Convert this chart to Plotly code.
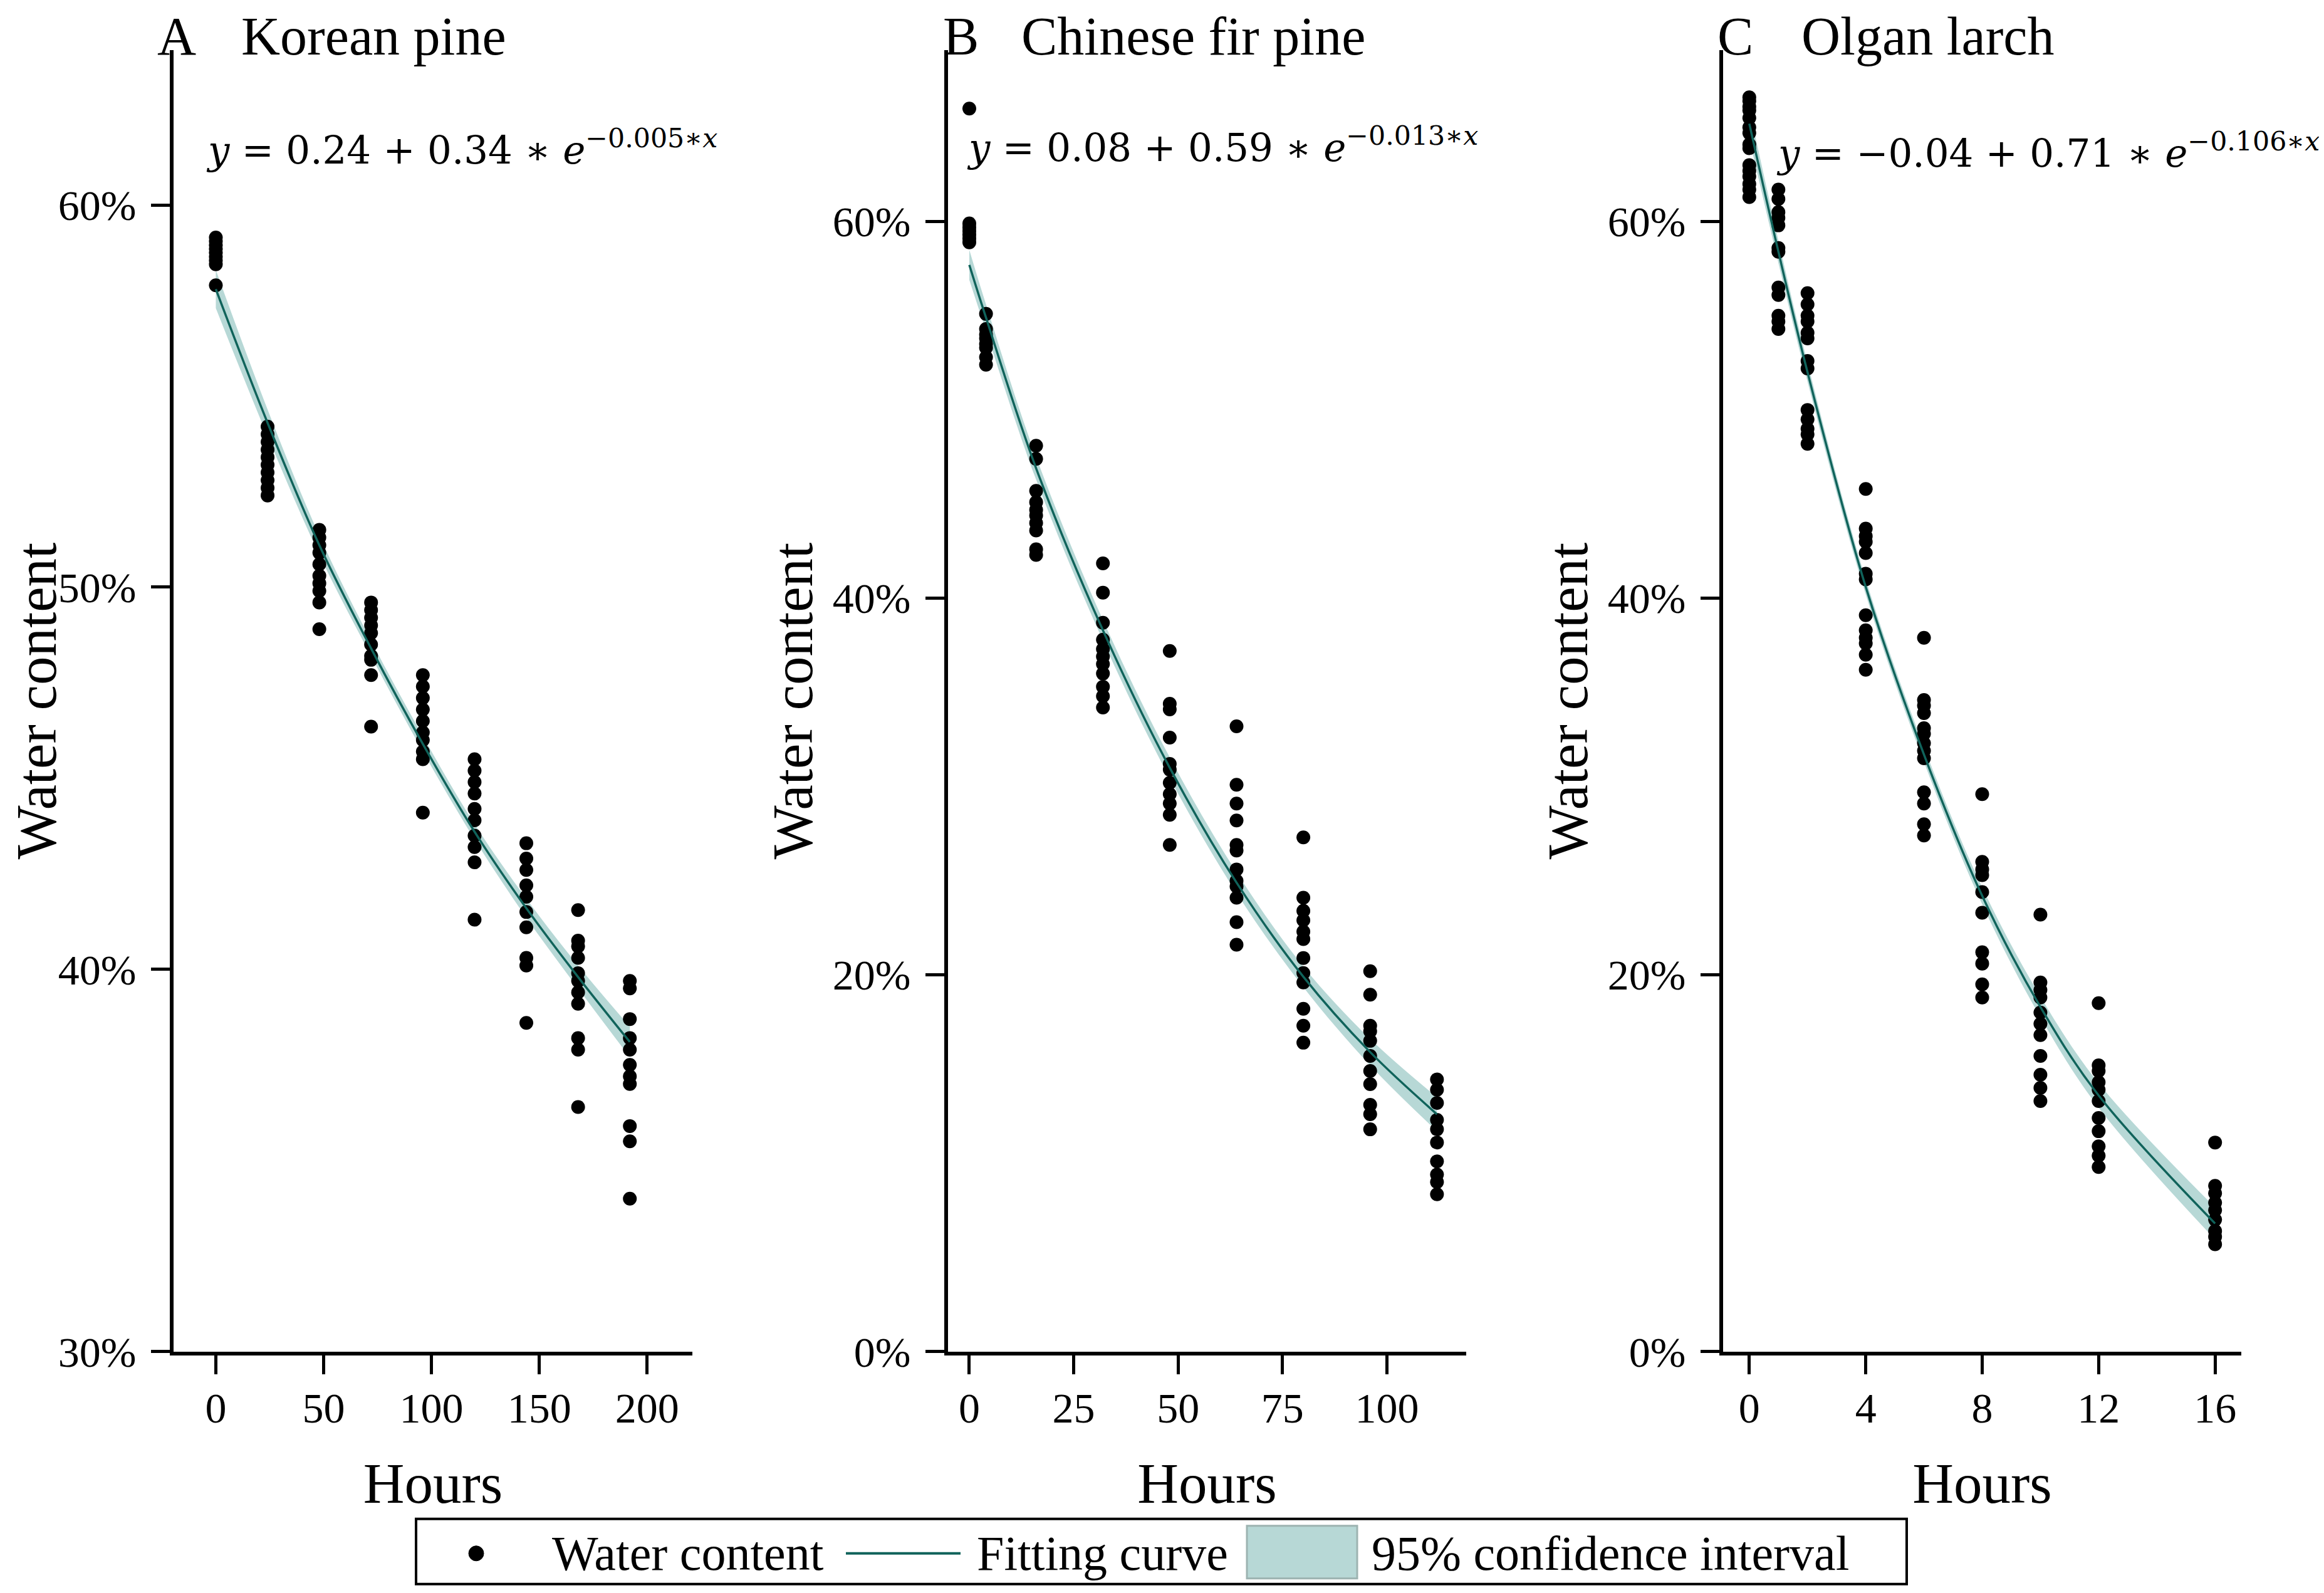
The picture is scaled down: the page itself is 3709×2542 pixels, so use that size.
import plotly.graph_objects as go

# ---- data (water content in %) ----
hours_a = [0, 24, 48, 72, 96, 120, 144, 168, 192]
water_a = [
    [59.15, 59.05, 58.95, 58.85, 58.75, 58.65, 58.55, 58.45, 57.9],
    [54.2, 54.0, 53.8, 53.6, 53.4, 53.2, 53.0, 52.8, 52.6, 52.4],
    [51.5, 51.3, 51.1, 50.9, 50.6, 50.3, 50.1, 49.9, 49.6, 48.9],
    [49.6, 49.4, 49.2, 49.0, 48.8, 48.5, 48.2, 48.1, 47.7, 46.35],
    [47.7, 47.4, 47.1, 46.8, 46.5, 46.2, 46.0, 45.7, 45.5, 44.1],
    [45.5, 45.2, 44.9, 44.6, 44.2, 43.9, 43.5, 43.2, 42.8, 41.3],
    [43.3, 42.9, 42.6, 42.2, 41.9, 41.5, 41.1, 40.3, 40.1, 38.6],
    [41.55, 40.75, 40.6, 40.3, 39.9, 39.7, 39.4, 39.1, 38.2, 37.9, 36.4],
    [39.7, 39.5, 38.7, 38.2, 37.9, 37.5, 37.2, 37.0, 35.9, 35.5, 34.0],
]
fit_a = [57.8, 54.3, 51.1, 48.4, 45.9, 43.6, 41.6, 39.8, 38.1]
lo_a = [57.3, 53.95, 50.85, 48.2, 45.7, 43.4, 41.35, 39.5, 37.7]
hi_a = [58.3, 54.65, 51.35, 48.6, 46.1, 43.8, 41.85, 40.1, 38.5]

hours_b = [0, 4, 16, 32, 48, 64, 80, 96, 112]
water_b = [
    [66.0, 59.9, 59.7, 59.5, 59.3, 59.1, 58.9],
    [55.1, 54.3, 54.0, 53.8, 53.5, 53.3, 52.8, 52.4],
    [48.1, 47.4, 45.7, 45.1, 44.7, 44.4, 44.0, 43.6, 42.6, 42.3],
    [41.85, 40.3, 38.7, 37.8, 37.3, 36.9, 36.5, 36.0, 35.3, 34.8, 34.2],
    [37.2, 34.4, 34.1, 32.6, 31.2, 30.9, 30.2, 29.6, 29.1, 28.5, 26.9],
    [33.2, 30.1, 29.1, 28.2, 26.9, 26.6, 25.6, 25.0, 24.7, 24.1, 22.8, 21.6],
    [27.3, 24.1, 23.4, 22.9, 22.3, 21.9, 20.9, 20.1, 19.6, 18.2, 17.3, 16.4],
    [20.2, 18.95, 17.3, 17.0, 16.5, 15.7, 14.9, 14.2, 13.1, 12.6, 11.8],
    [14.45, 13.9, 13.2, 12.3, 11.8, 11.1, 10.1, 9.4, 9.0, 8.35],
]
fit_b = [57.7, 54.9, 46.9, 38.3, 31.0, 24.9, 19.9, 15.9, 12.6]
lo_b = [56.9, 54.2, 46.3, 37.75, 30.45, 24.35, 19.35, 15.2, 11.7]
hi_b = [58.5, 55.6, 47.5, 38.85, 31.55, 25.45, 20.45, 16.6, 13.5]

hours_c = [0, 1, 2, 4, 6, 8, 10, 12, 16]
water_c = [
    [66.6, 66.4, 66.1, 65.9, 65.5, 65.0, 64.7, 64.1, 63.9, 63.0, 62.7, 62.4, 62.0, 61.7, 61.3],
    [61.7, 61.2, 60.5, 60.2, 59.8, 58.6, 58.4, 56.5, 56.1, 55.0, 54.7, 54.3],
    [56.2, 55.6, 55.0, 54.7, 54.1, 53.8, 52.6, 52.2, 50.0, 49.5, 49.0, 48.7, 48.2],
    [45.8, 43.7, 43.3, 43.0, 42.4, 41.3, 41.0, 39.1, 38.3, 37.9, 37.6, 37.0, 36.2],
    [37.9, 34.6, 34.3, 33.9, 33.1, 32.8, 32.3, 31.9, 31.5, 29.7, 29.1, 28.0, 27.4],
    [29.6, 26.0, 25.6, 25.3, 24.4, 23.3, 21.2, 20.6, 19.5, 18.8],
    [23.2, 19.6, 19.2, 18.8, 18.0, 17.4, 16.8, 15.7, 14.7, 14.0, 13.3],
    [18.5, 15.2, 14.9, 14.3, 13.9, 13.3, 12.4, 11.7, 10.9, 10.4, 9.8],
    [11.1, 8.8, 8.4, 7.9, 7.5, 7.0, 6.4, 6.1, 5.7],
]
fit_c = [65.2, 58.4, 52.0, 40.6, 31.7, 24.2, 18.3, 13.6, 6.8]
lo_c = [64.4, 57.8, 51.5, 40.2, 31.3, 23.75, 17.75, 12.95, 5.95]
hi_c = [66.0, 59.0, 52.5, 41.0, 32.1, 24.65, 18.85, 14.25, 7.65]

letters = ['A', 'B', 'C']
species = ['Korean pine', 'Chinese fir pine', 'Olgan larch']
equations = [
    '<i>y</i> = 0.24 + 0.34 ∗ <i>e</i><sup>−0.005∗<i>x</i></sup>',
    '<i>y</i> = 0.08 + 0.59 ∗ <i>e</i><sup>−0.013∗<i>x</i></sup>',
    '<i>y</i> = −0.04 + 0.71 ∗ <i>e</i><sup>−0.106∗<i>x</i></sup>',
]
x_ticks = [[0, 50, 100, 150, 200], [0, 25, 50, 75, 100], [0, 4, 8, 12, 16]]
y_ticks = [[30, 40, 50, 60], [0, 20, 40, 60], [0, 20, 40, 60]]

# ---- geometry: positions measured on the 3709 x 2542 reference ----
PAGE_OFF = 8          # default body margin of the html page
VSCALE = 2582 / 2542  # the photographed viewport is a little taller than the picture
FW, FH = 3709 - 2 * PAGE_OFF, 2562
FONT = 'Liberation Serif'
LINE_COL = '#10635b'
BAND_COL = '#b7d8d6'


def px(x):
    return (x - PAGE_OFF) / FW


def py(y):
    return 1 - (y * VSCALE - PAGE_OFF) / FH


x_ranges = [[-19.6, 221], [-5.1, 119], [-0.9, 16.9]]
y_ranges = [[30, 64.05], [0, 69.1], [0, 69.1]]
x_dom_px = [(277, 1105), (1513, 2340), (2750, 3577)]
y_dom = [py(2156), py(80)]
letter_px = [249, 1503, 2739]
name_px = [383, 1628, 2873]
eq_px = [(327, 277), (1541, 273), (2833, 282)]

panels = [
    (hours_a, water_a, fit_a, lo_a, hi_a),
    (hours_b, water_b, fit_b, lo_b, hi_b),
    (hours_c, water_c, fit_c, lo_c, hi_c),
]

fig = go.Figure()
annotations = []
for i, (hours, water, fit, lo, hi) in enumerate(panels):
    xa = 'x' if i == 0 else f'x{i + 1}'
    ya = 'y' if i == 0 else f'y{i + 1}'
    pts_x, pts_y = [], []
    for h, vals in zip(hours, water):
        pts_x += [h] * len(vals)
        pts_y += vals

    fig.add_trace(go.Scatter(x=hours, y=lo, mode='lines', line=dict(width=0, shape='spline'),
                             xaxis=xa, yaxis=ya, showlegend=False, hoverinfo='skip'))
    fig.add_trace(go.Scatter(x=hours, y=hi, mode='lines', line=dict(width=0, shape='spline'),
                             fill='tonexty', fillcolor=BAND_COL, xaxis=xa, yaxis=ya,
                             showlegend=False, hoverinfo='skip'))
    fig.add_trace(go.Scatter(x=pts_x, y=pts_y, mode='markers', marker=dict(color='black', size=22),
                             xaxis=xa, yaxis=ya, showlegend=False, name='Water content'))
    fig.add_trace(go.Scatter(x=hours, y=fit, mode='lines', line=dict(color=LINE_COL, width=3.5, shape='spline'),
                             xaxis=xa, yaxis=ya, showlegend=False, name='Fitting curve'))

    axis_common = dict(showline=True, linecolor='black', linewidth=6, ticks='outside', ticklen=30,
                       tickwidth=5, tickcolor='black', showgrid=False, zeroline=False,
                       tickfont=dict(family=FONT, size=68, color='black'))
    fig.update_layout(**{
        ('xaxis' if i == 0 else f'xaxis{i + 1}'): dict(
            axis_common, domain=[px(x_dom_px[i][0]), px(x_dom_px[i][1])], range=x_ranges[i],
            tickvals=x_ticks[i], anchor=ya, ticklabelstandoff=-4,
            title=dict(text='Hours', font=dict(family=FONT, size=91, color='black'), standoff=52)),
        ('yaxis' if i == 0 else f'yaxis{i + 1}'): dict(
            axis_common, domain=y_dom, range=y_ranges[i], tickvals=y_ticks[i],
            ticktext=[f'{v}%' for v in y_ticks[i]], anchor=xa, ticklabelstandoff=10,
            title=dict(text='Water content', font=dict(family=FONT, size=91, color='black'), standoff=4)),
    })

    annotations.append(dict(text=letters[i], x=px(letter_px[i]), y=1, xref='paper', yref='paper',
                            xanchor='left', yanchor='top', showarrow=False,
                            font=dict(family=FONT, size=86, color='black')))
    annotations.append(dict(text=species[i], x=px(name_px[i]), y=1, xref='paper', yref='paper',
                            xanchor='left', yanchor='top', showarrow=False,
                            font=dict(family=FONT, size=86, color='black')))
    annotations.append(dict(text=equations[i], x=px(eq_px[i][0]), y=py(eq_px[i][1]), xref='paper',
                            yref='paper', xanchor='left', yanchor='bottom', showarrow=False,
                            font=dict(family='DejaVu Serif', size=61, color='black')))

# ---- legend drawn as a box at the bottom ----
leg_y = py(2478)
shapes = [
    dict(type='rect', xref='paper', yref='paper', x0=px(664), x1=px(3043), y0=py(2527), y1=py(2423),
         line=dict(color='black', width=4), fillcolor='white'),
    dict(type='circle', xref='paper', yref='paper', x0=px(748), x1=px(772), y0=py(2490), y1=py(2466),
         line=dict(color='black', width=1), fillcolor='black'),
    dict(type='line', xref='paper', yref='paper', x0=px(1350), x1=px(1533), y0=leg_y, y1=leg_y,
         line=dict(color=LINE_COL, width=4)),
    dict(type='rect', xref='paper', yref='paper', x0=px(1990), x1=px(2166), y0=py(2518), y1=py(2434),
         line=dict(color='#9db3b1', width=3), fillcolor=BAND_COL),
]
for label, lx in [('Water content', 879), ('Fitting curve', 1557), ('95% confidence interval', 2187)]:
    annotations.append(dict(text=label, x=px(lx), y=leg_y, xref='paper', yref='paper', xanchor='left',
                            yanchor='middle', showarrow=False, font=dict(family=FONT, size=78, color='black')))

fig.update_layout(width=FW, height=FH, autosize=False, margin=dict(l=0, r=0, t=0, b=0),
                  plot_bgcolor='white', paper_bgcolor='white', showlegend=False,
                  font=dict(family=FONT, color='black'), annotations=annotations, shapes=shapes)

fig.write_html('out.html')
